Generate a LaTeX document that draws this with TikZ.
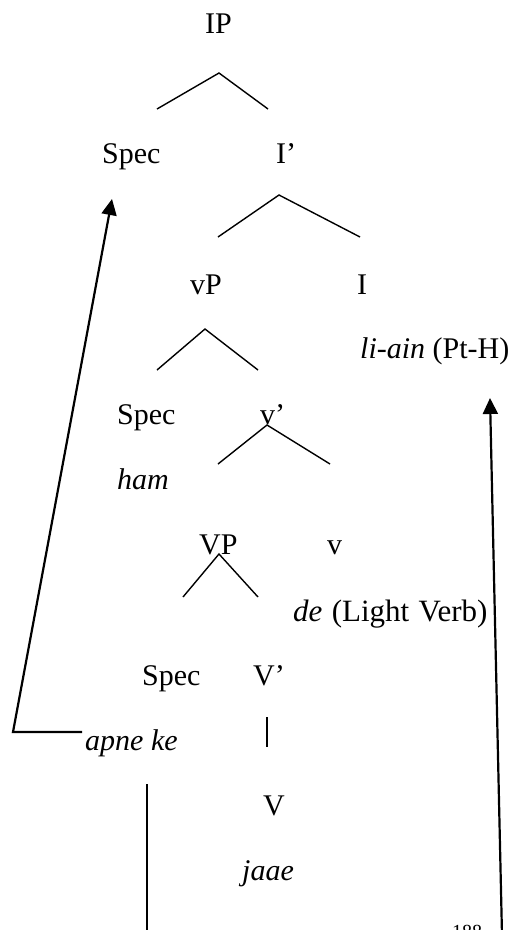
\documentclass[tikz,border=0pt]{standalone}
\usepackage{fontspec}
\setmainfont{Liberation Serif}
\usetikzlibrary{arrows.meta}

\begin{document}
\begin{tikzpicture}[x=1pt,y=-1pt,
  lbl/.style={anchor=base west,inner sep=0pt,font=\fontsize{30}{36}\selectfont},
  branch/.style={line width=1.4pt},
  movearrow/.style={line width=2.2pt,-{Triangle[length=16pt,width=15pt]}}]
  \path[use as bounding box] (0,0) rectangle (517,930);
  \fill[white] (0,0) rectangle (517,930);

  % labels of the tree
  \node[lbl] (ip) at (205,33) {IP};
  \node[lbl] (spec1) at (102,163) {Spec};
  \node[lbl] (ibar) at (276,163) {I’};
  \node[lbl] (vsp) at (190,294) {vP};
  \node[lbl] (infl) at (357,294) {I};
  \node[lbl] (liain) at (360,358) {\textit{li-ain} (Pt-H)};
  \node[lbl] (spec2) at (117,424) {Spec};
  \node[lbl] (vsbar) at (260,424) {v’};
  \node[lbl] (ham) at (117,489) {\textit{ham}};
  \node[lbl] (vbp) at (199,554) {VP};
  \node[lbl] (vs) at (327,554) {v};
  \node[lbl,font=\fontsize{31}{36}\selectfont] (de) at (293,621) {\textit{de}\hspace{0.3em}(Light\hspace{0.3em}Verb)};
  \node[lbl] (spec3) at (142,685) {Spec};
  \node[lbl] (vbbar) at (253,685) {V’};
  \node[lbl] (apne) at (85,750) {\textit{apne ke}};
  \node[lbl] (vb) at (263,815) {V};
  \node[lbl] (jaae) at (242,880) {\textit{jaae}};
  \node[lbl,font=\fontsize{20}{24}\selectfont] (page) at (452,938) {188};

  % branches
  \foreach \n/\lx/\ly/\ax/\ay/\rx/\ry in {1/157/109/219/73/268/109,
      2/218/237/279/195/360/237, 3/157/370/205/329/258/370,
      4/218/464/267/425/330/464, 5/183/597/219/554/258/597}{
    \coordinate (l\n) at (\lx,\ly);
    \coordinate (a\n) at (\ax,\ay);
    \coordinate (r\n) at (\rx,\ry);
    \draw[branch] (l\n) -- (a\n) -- (r\n);
  }
  \coordinate (vbtop) at (267,717);
  \coordinate (vbbot) at (267,747);
  \draw[branch] (vbtop) -- (vbbot);

  % movement
  \coordinate (apnestart) at (82,732);
  \coordinate (corner) at (13,732);
  \coordinate (spectip) at (112,199);
  \draw[movearrow] (apnestart) -- (corner) -- (spectip);
  \coordinate (tracetop) at (147,784);
  \coordinate (tracebot) at (147,935);
  \draw[line width=2pt] (tracetop) -- (tracebot);
  \coordinate (headbot) at (502,935);
  \coordinate (headtip) at (490,398);
  \draw[movearrow] (headbot) -- (headtip);
\end{tikzpicture}
\end{document}
